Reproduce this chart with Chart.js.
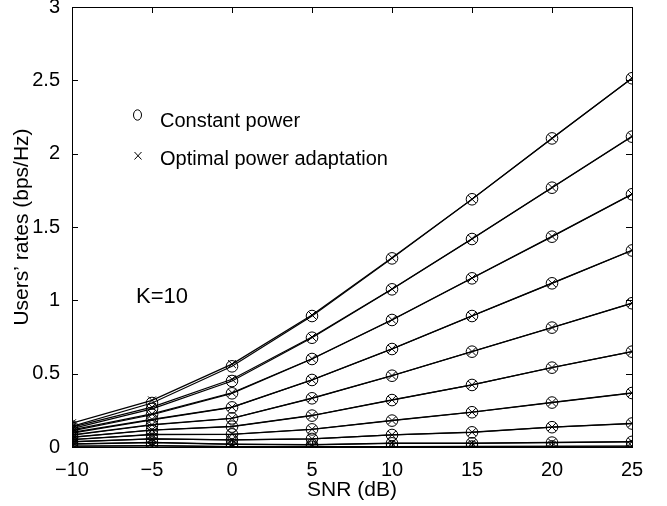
<!DOCTYPE html>
<html>
<head>
<meta charset="utf-8">
<script src="https://cdn.jsdelivr.net/npm/chart.js@4.4.1/dist/chart.umd.min.js"></script>
<style>
  html, body { margin: 0; padding: 0; background: #fff; }
  #wrap { position: relative; width: 667px; height: 506px; }
</style>
</head>
<body>
<div id="wrap"><canvas id="c"></canvas></div>
<script>
// SNR values (dB)
const snr = [-10, -5, 0, 5, 10, 15, 20, 25];
const xTicks = [-10, -5, 0, 5, 10, 15, 20, 25];
const yTicks = [0, 0.5, 1, 1.5, 2, 2.5, 3];

// Constant power (circles), users 1..10
const cp1  = [0.140, 0.300, 0.550, 0.893, 1.286, 1.689, 2.104, 2.514];
const cp2  = [0.125, 0.260, 0.450, 0.745, 1.075, 1.418, 1.768, 2.116];
const cp3  = [0.110, 0.220, 0.366, 0.600, 0.866, 1.150, 1.434, 1.723];
const cp4  = [0.095, 0.185, 0.270, 0.457, 0.668, 0.893, 1.116, 1.340];
const cp5  = [0.080, 0.150, 0.195, 0.332, 0.486, 0.650, 0.814, 0.980];
const cp6  = [0.065, 0.115, 0.139, 0.214, 0.320, 0.423, 0.541, 0.650];
const cp7  = [0.050, 0.085, 0.086, 0.120, 0.180, 0.237, 0.303, 0.368];
const cp8  = [0.035, 0.055, 0.048, 0.055, 0.082, 0.100, 0.135, 0.160];
const cp9  = [0.020, 0.030, 0.018, 0.015, 0.025, 0.025, 0.030, 0.035];
const cp10 = [0.005, 0.008, 0.002, 0.002, 0.002, 0.003, 0.004, 0.005];

// Optimal power adaptation (crosses), users 1..10
const op1  = [0.162, 0.318, 0.565, 0.900, 1.290, 1.690, 2.105, 2.515];
const op2  = [0.136, 0.272, 0.462, 0.750, 1.078, 1.420, 1.770, 2.118];
const op3  = [0.116, 0.226, 0.370, 0.602, 0.868, 1.152, 1.436, 1.725];
const op4  = [0.099, 0.188, 0.272, 0.458, 0.669, 0.894, 1.117, 1.341];
const op5  = [0.083, 0.152, 0.196, 0.333, 0.487, 0.651, 0.815, 0.981];
const op6  = [0.067, 0.116, 0.140, 0.215, 0.321, 0.424, 0.542, 0.651];
const op7  = [0.051, 0.086, 0.087, 0.121, 0.181, 0.238, 0.304, 0.369];
const op8  = [0.036, 0.056, 0.049, 0.056, 0.083, 0.101, 0.136, 0.161];
const op9  = [0.021, 0.031, 0.019, 0.016, 0.026, 0.026, 0.031, 0.036];
const op10 = [0.006, 0.009, 0.003, 0.003, 0.003, 0.004, 0.005, 0.006];

const constSeries = [cp1, cp2, cp3, cp4, cp5, cp6, cp7, cp8, cp9, cp10];
const optSeries = [op1, op2, op3, op4, op5, op6, op7, op8, op9, op10];

const FONT = '"Liberation Sans", Arial, Helvetica, sans-serif';

function toPoints(arr) { return arr.map((v, i) => ({ x: snr[i], y: v })); }

const datasets = [];
constSeries.forEach((s, i) => datasets.push({
  label: 'Constant power ' + (i + 1),
  data: toPoints(s),
  borderColor: '#000', borderWidth: 1.2,
  pointStyle: 'circle', pointRadius: 5.8, pointBorderWidth: 1,
  pointBorderColor: '#000', pointBackgroundColor: 'rgba(0,0,0,0)',
  fill: false, tension: 0
}));
optSeries.forEach((s, i) => datasets.push({
  label: 'Optimal power adaptation ' + (i + 1),
  data: toPoints(s),
  borderColor: '#000', borderWidth: 1.2,
  pointStyle: 'crossRot', pointRadius: 5.6, pointBorderWidth: 1,
  pointBorderColor: '#000', pointBackgroundColor: 'rgba(0,0,0,0)',
  fill: false, tension: 0
}));

const framePlugin = {
  id: 'frame',
  afterDraw(chart) {
    const { ctx, chartArea: a, scales } = chart;
    ctx.save();
    ctx.strokeStyle = '#000';
    ctx.lineWidth = 1;
    ctx.strokeRect(Math.round(a.left) + 0.5, Math.round(a.top) + 0.5,
                   Math.round(a.right - a.left), Math.round(a.bottom - a.top));
    const L = 6;
    ctx.beginPath();
    xTicks.forEach(v => {
      const px = Math.round(scales.x.getPixelForValue(v)) + 0.5;
      ctx.moveTo(px, a.bottom); ctx.lineTo(px, a.bottom - L);
      ctx.moveTo(px, a.top); ctx.lineTo(px, a.top + L);
    });
    yTicks.forEach(v => {
      const py = Math.round(scales.y.getPixelForValue(v)) + 0.5;
      ctx.moveTo(a.left, py); ctx.lineTo(a.left + L, py);
      ctx.moveTo(a.right, py); ctx.lineTo(a.right - L, py);
    });
    ctx.stroke();

    // Legend
    ctx.fillStyle = '#000';
    ctx.lineWidth = 1;
    ctx.beginPath();
    ctx.ellipse(137.5, 115, 4, 5.2, 0, 0, Math.PI * 2);
    ctx.stroke();
    ctx.beginPath();
    ctx.moveTo(134.5, 152); ctx.lineTo(141.5, 159.5);
    ctx.moveTo(141.5, 152); ctx.lineTo(134.5, 159.5);
    ctx.stroke();
    ctx.font = '20px ' + FONT;
    ctx.textAlign = 'left';
    ctx.textBaseline = 'alphabetic';
    ctx.fillText('Constant power', 160, 127);
    ctx.fillText('Optimal power adaptation', 160, 165);
    ctx.font = '22px ' + FONT;
    ctx.fillText('K=10', 136, 303);
    ctx.restore();
  }
};

new Chart(document.getElementById('c'), {
  type: 'line',
  data: { datasets },
  options: {
    responsive: true,
    maintainAspectRatio: false,
    animation: false,
    layout: { padding: { left: 0, top: 7, right: 35, bottom: 0 } },
    plugins: { legend: { display: false }, tooltip: { enabled: false } },
    scales: {
      x: {
        type: 'linear', min: -10, max: 25,
        afterBuildTicks: s => { s.ticks = xTicks.map(v => ({ value: v })); },
        afterFit: s => { s.height = 59; s.paddingLeft = 0; s.paddingRight = 0; },
        grid: { display: false }, border: { display: false },
        ticks: {
          color: '#000', font: { family: FONT, size: 20 }, padding: 3,
          maxRotation: 0, autoSkip: false,
          callback: v => String(v).replace('-', '\u2212')
        },
        title: { display: true, text: 'SNR (dB)', color: '#000',
                 font: { family: FONT, size: 21 }, padding: { top: 0, bottom: 3 } }
      },
      y: {
        type: 'linear', min: 0, max: 3,
        afterBuildTicks: s => { s.ticks = yTicks.map(v => ({ value: v })); },
        afterFit: s => { s.width = 72; s.paddingTop = 0; s.paddingBottom = 0; },
        grid: { display: false }, border: { display: false },
        ticks: {
          color: '#000', font: { family: FONT, size: 20 }, padding: 4,
          autoSkip: false, callback: v => String(v)
        },
        title: { display: true, text: 'Users\u2019 rates (bps/Hz)', color: '#000',
                 font: { family: FONT, size: 21 }, padding: { top: 10, bottom: 0 } }
      }
    }
  },
  plugins: [framePlugin]
});
</script>
</body>
</html>
